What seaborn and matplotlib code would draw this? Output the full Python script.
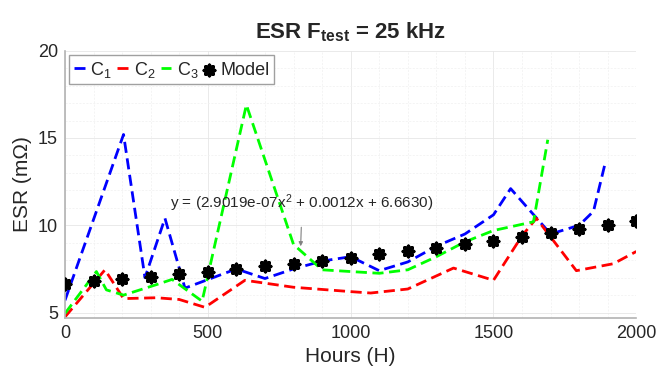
import pandas as pd
import matplotlib
matplotlib.use("Agg")
import matplotlib.pyplot as plt
import seaborn as sns
from matplotlib.ticker import MultipleLocator

# Kurvor
c1_hours = [0, 205, 280, 350, 420, 600, 700, 800, 900, 1000, 1100, 1200, 1300, 1400, 1500, 1560, 1700, 1800, 1850, 1890]
c1_esr = [5.7, 15.2, 7.0, 10.4, 6.4, 7.5, 6.95, 7.5, 7.95, 8.2, 7.4, 7.9, 8.8, 9.5, 10.6, 12.1, 9.5, 10.0, 10.8, 13.5]

c2_hours = [0, 140, 205, 320, 400, 490, 630, 800, 1000, 1070, 1200, 1360, 1500, 1600, 1650, 1790, 1920, 2000]
c2_esr = [4.75, 7.45, 5.8, 5.85, 5.75, 5.3, 6.85, 6.45, 6.2, 6.12, 6.35, 7.55, 6.85, 9.4, 10.4, 7.4, 7.8, 8.5]

c3_hours = [0, 110, 145, 205, 320, 375, 480, 635, 800, 900, 1000, 1100, 1200, 1300, 1400, 1500, 1640, 1690]
c3_esr = [4.95, 7.35, 6.3, 6.0, 6.6, 6.9, 5.65, 16.9, 8.9, 7.45, 7.35, 7.25, 7.45, 8.2, 9.05, 9.7, 10.2, 14.9]

model_hours = [0, 100, 200, 300, 400, 500, 600, 700, 800, 900, 1000,
               1100, 1200, 1300, 1400, 1500, 1600, 1700, 1800, 1900, 2000]
model_esr = [6.66, 6.79, 6.92, 7.05, 7.19, 7.34, 7.49, 7.65, 7.81, 7.98, 8.15,
             8.34, 8.52, 8.72, 8.92, 9.12, 9.33, 9.54, 9.76, 9.99, 10.22]

fit_text = r"y = (2.9019e-07x$^2$ + 0.0012x + 6.6630)"

sns.set_style("white")
plt.rcParams['font.family'] = ['Liberation Sans', 'DejaVu Sans']
plt.rcParams['mathtext.fontset'] = 'custom'
plt.rcParams['mathtext.rm'] = 'Liberation Sans'
plt.rcParams['mathtext.it'] = 'Liberation Sans:italic'
plt.rcParams['mathtext.bf'] = 'Liberation Sans:bold'

fig = plt.figure(figsize=(6.59, 3.77), dpi=100)
ax = fig.add_axes([0.0986, 0.157, 0.867, 0.7085])

curves = [("C$_1$", c1_hours, c1_esr, "#0000ff"),
          ("C$_2$", c2_hours, c2_esr, "#ff0000"),
          ("C$_3$", c3_hours, c3_esr, "#00ff00")]
for name, h, v, col in curves:
    df = pd.DataFrame({"Hours": h, "ESR": v})
    sns.lineplot(data=df, x="Hours", y="ESR", ax=ax, sort=False, estimator=None,
                 color=col, linewidth=2, dashes=False, label=name)
    ax.lines[-1].set_dashes((4, 2))

model_df = pd.DataFrame({"Hours": model_hours, "ESR": model_esr})
sns.scatterplot(data=model_df, x="Hours", y="ESR", ax=ax, marker=(8, 2, 0),
                s=55, linewidth=2.6, color="black", label="Model", zorder=5)

ax.annotate(fit_text, xy=(825, 8.8), xytext=(830, 11.25), ha="center", va="center",
            fontsize=11, color="#262626",
            arrowprops=dict(arrowstyle="-|>", color="#808080", lw=0.8,
                            mutation_scale=6, shrinkA=7, shrinkB=0))

ax.set_xlim(0, 2000)
ax.set_ylim(4.7, 20)
ax.xaxis.set_major_locator(MultipleLocator(500))
ax.yaxis.set_major_locator(MultipleLocator(5))
ax.xaxis.set_minor_locator(MultipleLocator(100))
ax.yaxis.set_minor_locator(MultipleLocator(1))
ax.grid(True, which="major", color="#e6e6e6", linewidth=0.6)
ax.grid(True, which="minor", color="#f0f0f0", linewidth=0.5, linestyle=(0, (3, 2)))
ax.set_axisbelow(True)

for side in ["top", "right"]:
    ax.spines[side].set_visible(False)
for side in ["left", "bottom"]:
    ax.spines[side].set_color("#b3b3b3")
    ax.spines[side].set_linewidth(1.2)
ax.tick_params(which="major", direction="in", length=4, color="#808080",
               labelsize=13, labelcolor="#262626", pad=5)
ax.tick_params(which="minor", length=0)

ax.set_xlabel("Hours (H)", fontsize=15, color="#262626")
ax.set_ylabel("ESR (m\u03a9)", fontsize=15, color="#262626")
ax.set_title(r"ESR F$_{\mathbf{test}}$ = 25 kHz", fontsize=16, fontweight="bold", pad=9)

leg = ax.legend(loc="upper left", ncol=4, fontsize=13, handlelength=0.6,
                handletextpad=0.3, columnspacing=0.3, borderpad=0.25,
                borderaxespad=0.25, fancybox=False, framealpha=1)
leg.get_frame().set_edgecolor("#a0a0a0")

fig.savefig("out.png", dpi=100)
